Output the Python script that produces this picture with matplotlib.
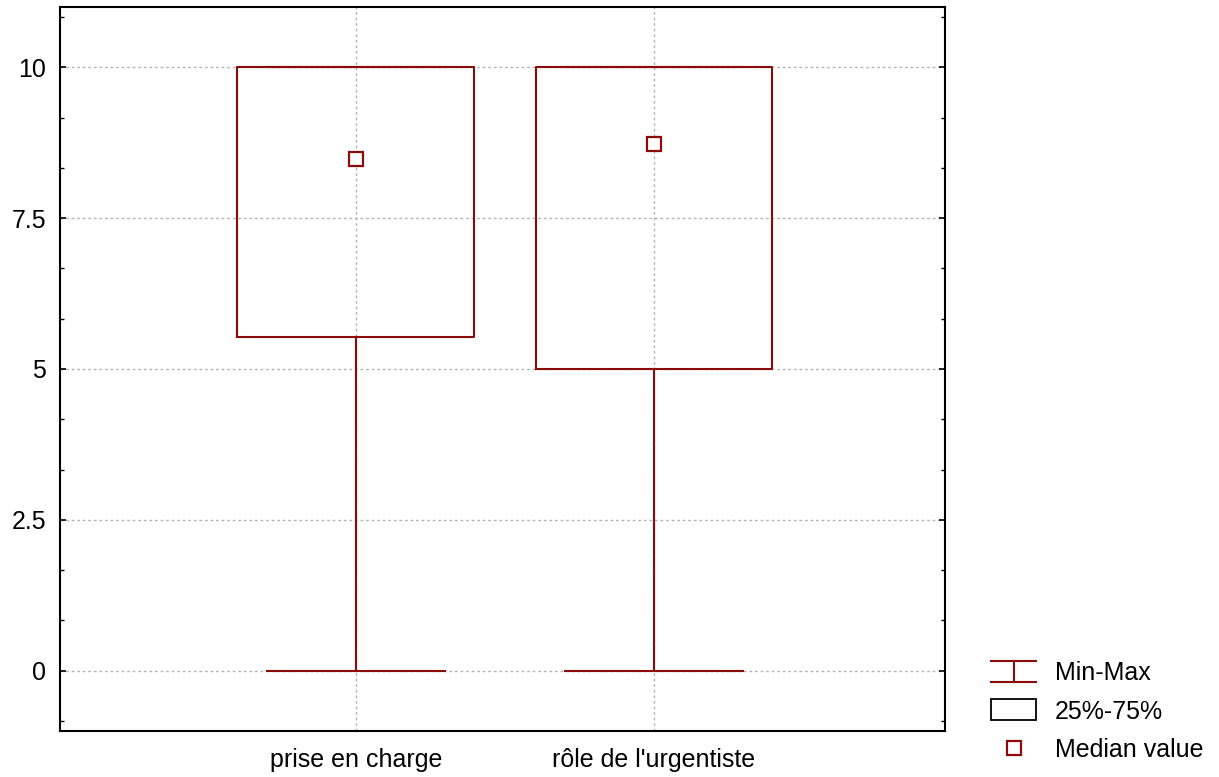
import matplotlib
matplotlib.use("Agg")
import matplotlib.pyplot as plt
from matplotlib.legend_handler import HandlerBase
from matplotlib.lines import Line2D
from matplotlib.patches import Rectangle
from matplotlib.ticker import MultipleLocator, FixedLocator

plt.rcParams['font.family'] = ['Liberation Sans', 'DejaVu Sans']

categories = ["prise en charge", "rôle de l'urgentiste"]
minimum = [0.0, 0.0]
q25 = [5.53, 5.0]
q75 = [10.0, 10.0]
maximum = [10.0, 10.0]
median = [8.48, 8.73]
yticks = [0, 2.5, 5, 7.5, 10]
ytick_labels = ["0", "2.5", "5", "7.5", "10"]

RED = "#8b0a0a"
FS = 18

fig = plt.figure(figsize=(12.19, 7.77), dpi=100)
ax = fig.add_axes([0.0492, 0.0592, 0.7262, 0.9318])

positions = list(range(1, len(categories) + 1))
stats = []
for lo, a, b, hi, m in zip(minimum, q25, q75, maximum, median):
    stats.append(dict(whislo=lo, q1=a, med=m, q3=b, whishi=hi))

ax.bxp(stats, positions=positions, widths=0.795, capwidths=0.595,
       showfliers=False,
       boxprops=dict(color=RED, linewidth=1.5),
       whiskerprops=dict(color=RED, linewidth=1.5),
       capprops=dict(color=RED, linewidth=1.5),
       medianprops=dict(linestyle='none'))
ax.plot(positions, median, linestyle='none', marker='s', markersize=9.5,
        markerfacecolor='white', markeredgecolor=RED, markeredgewidth=1.6,
        zorder=5)

ax.set_xlim(0.007, 2.977)
ax.set_ylim(-1, 11)
ax.set_xticks(positions)
ax.set_xticklabels(categories)
ax.yaxis.set_major_locator(FixedLocator(yticks))
ax.set_yticklabels(ytick_labels)
ax.yaxis.set_minor_locator(MultipleLocator(2.5 / 3))

ax.grid(True, which='major', color='#b5b5b5', linestyle=(0, (2, 2)), linewidth=1.0)
ax.set_axisbelow(True)

ax.tick_params(axis='both', which='major', direction='in', length=4, width=1.2,
               labelsize=FS, right=True, top=False, pad=10)
ax.tick_params(axis='x', which='major', length=0, pad=12)
ax.tick_params(axis='y', which='minor', direction='in', length=3, width=1.0, right=True)
for s in ax.spines.values():
    s.set_linewidth(1.5)


class MinMaxHandler(HandlerBase):
    def create_artists(self, legend, orig_handle, xdescent, ydescent, width,
                       height, fontsize, trans):
        x0, x1 = -xdescent, -xdescent + width
        xc = (x0 + x1) / 2
        y0, y1 = -ydescent - 0.05 * height, -ydescent + 1.05 * height
        arts = [Line2D([x0, x1], [y1, y1], color=RED, lw=1.5),
                Line2D([x0, x1], [y0, y0], color=RED, lw=1.5),
                Line2D([xc, xc], [y0, y1], color=RED, lw=1.5)]
        for a in arts:
            a.set_transform(trans)
        return arts


class BoxHandler(HandlerBase):
    def create_artists(self, legend, orig_handle, xdescent, ydescent, width,
                       height, fontsize, trans):
        r = Rectangle((-xdescent, -ydescent - 0.05 * height), width, 1.1 * height,
                      facecolor='white', edgecolor='black', lw=1.3)
        r.set_transform(trans)
        return [r]


minmax_h = Line2D([], [])
box_h = Rectangle((0, 0), 1, 1)
med_h = Line2D([], [], linestyle='none', marker='s', markersize=9.5,
               markerfacecolor='white', markeredgecolor=RED, markeredgewidth=1.6)

fig.legend([minmax_h, box_h, med_h], ["Min-Max", "25%-75%", "Median value"],
           handler_map={minmax_h: MinMaxHandler(), box_h: BoxHandler()},
           loc='lower left', bbox_to_anchor=(0.804, 0.005), frameon=False,
           fontsize=FS, handlelength=1.8, handleheight=0.8, handletextpad=0.75,
           labelspacing=0.57, borderaxespad=0.15, borderpad=0.3)

fig.savefig("out.png", dpi=100)
